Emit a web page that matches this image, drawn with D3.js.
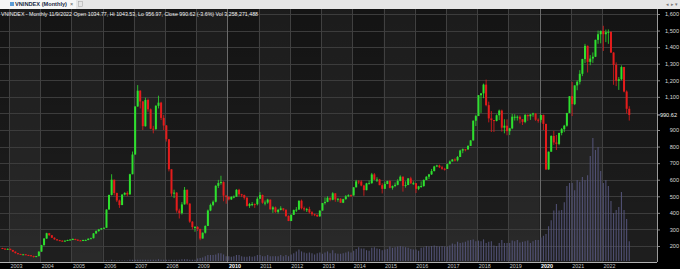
<!DOCTYPE html>
<html>
<head>
<meta charset="utf-8">
<script src="https://cdn.jsdelivr.net/npm/d3@7"></script>
<style>
  body { margin: 0; background: #000; overflow: hidden; }
  svg { display: block; font-family: "Liberation Sans", Arial, sans-serif; }
</style>
</head>
<body>
<div id="chart"></div>
<script>
// monthly VNINDEX, Oct 2002 .. Nov 2022
const firstMonth = new Date(2002, 9, 1);
const firstOpen = 188;

const closes = [
  184, 181, 183,
  176, 166, 157, 152, 150, 150, 146, 144, 140, 134, 139, 166,
  205, 245, 277, 265, 250, 240, 235, 232, 230, 232, 236, 239,
  242, 238, 234, 233, 236, 236, 244, 247, 276, 290, 300, 307,
  310, 420, 508, 600, 520, 475, 447, 510, 520, 511, 633, 752,
  1042, 1137, 1072, 923, 1081, 1025, 908, 906, 1046, 1065, 973, 927,
  844, 663, 516, 522, 414, 399, 451, 539, 456, 347, 314, 315,
  303, 245, 280, 321, 414, 448, 467, 563, 580, 586, 504, 495,
  481, 496, 498, 539, 512, 507, 491, 442, 453, 453, 452, 485,
  508, 461, 462, 480, 421, 433, 406, 418, 427, 419, 381, 351,
  388, 417, 420, 473, 428, 421, 422, 403, 392, 388, 379, 414,
  459, 466, 491, 479, 518, 481, 485, 461, 483, 500, 507, 505,
  554, 590, 589, 565, 537, 578, 579, 632, 600, 601, 567, 545,
  574, 592, 551, 562, 569, 593, 618, 563, 568, 608, 578, 579,
  545, 560, 562, 598, 618, 632, 652, 680, 686, 675, 666, 665,
  694, 710, 722, 717, 737, 776, 784, 783, 804, 837, 956, 984,
  1110, 1121, 1174, 1050, 970, 960, 955, 989, 1017, 914, 926, 893,
  910, 980, 980, 980, 965, 949, 991, 983, 994, 1000, 962, 961,
  991, 937, 662, 769, 864, 825, 816, 882, 905, 926, 1003, 1104,
  1056, 1169, 1191, 1239, 1328, 1408, 1311, 1331, 1342, 1444, 1478, 1498,
  1478, 1490, 1492, 1367, 1293, 1197, 1206, 1280, 1132, 1028, 990.62
];

const highs = [
  189, 186, 185,
  184, 177, 167, 158, 153, 152, 151, 147, 145, 141, 140, 168,
  207, 248, 280, 279, 266, 252, 242, 237, 234, 234, 238, 241,
  246, 244, 240, 236, 238, 239, 246, 250, 278, 294, 303, 309,
  312, 421, 510, 633, 600, 522, 480, 513, 525, 530, 636, 770,
  1043, 1171, 1140, 1075, 1095, 1090, 1030, 925, 1050, 1107, 1070, 990,
  930, 845, 663, 540, 525, 425, 465, 556, 541, 457, 350, 320,
  320, 304, 282, 325, 420, 456, 475, 567, 599, 624, 590, 505,
  500, 500, 505, 543, 545, 515, 510, 495, 460, 465, 457, 495,
  525, 510, 475, 485, 480, 440, 438, 424, 440, 428, 420, 385,
  390, 420, 435, 475, 480, 438, 430, 437, 410, 395, 390, 414,
  460, 493, 500, 493, 525, 518, 489, 488, 485, 507, 512, 511,
  556, 599, 597, 597, 569, 581, 595, 641, 640, 615, 605, 579,
  588, 594, 599, 565, 583, 603, 626, 620, 590, 610, 618, 590,
  580, 563, 590, 602, 621, 635, 665, 684, 690, 691, 684, 672,
  697, 716, 724, 729, 743, 781, 788, 784, 808, 840, 958, 992,
  1111, 1123, 1180, 1204, 1071, 1014, 958, 994, 1023, 1023, 965, 964,
  913, 997, 995, 988, 988, 966, 996, 994, 995, 1004, 1000, 970,
  991, 993, 937, 770, 868, 895, 870, 884, 912, 931, 1003, 1104,
  1190, 1170, 1200, 1261, 1330, 1420, 1410, 1352, 1368, 1445, 1500, 1500,
  1529, 1506, 1507, 1495, 1370, 1308, 1220, 1290, 1281, 1139, 1043.53
];

const lows = [
  182, 179, 180,
  174, 164, 155, 149, 148, 148, 145, 142, 138, 130, 133, 138,
  165, 203, 243, 262, 248, 238, 233, 230, 228, 229, 230, 234,
  236, 235, 231, 230, 231, 233, 235, 242, 246, 272, 286, 296,
  305, 310, 420, 505, 505, 465, 430, 447, 505, 500, 511, 633,
  752, 1040, 1030, 900, 920, 1010, 905, 880, 900, 1030, 960, 900,
  830, 650, 500, 489, 401, 366, 390, 450, 448, 340, 300, 286,
  290, 235, 245, 275, 321, 410, 440, 463, 550, 570, 470, 455,
  475, 478, 488, 496, 500, 495, 480, 438, 430, 440, 430, 445,
  485, 455, 445, 455, 420, 400, 400, 396, 415, 410, 375, 350,
  350, 388, 405, 418, 421, 410, 405, 396, 382, 380, 375, 376,
  413, 450, 464, 470, 476, 467, 467, 461, 459, 479, 495, 496,
  504, 554, 573, 560, 503, 536, 573, 576, 600, 586, 567, 517,
  545, 573, 548, 540, 555, 566, 591, 528, 552, 567, 575, 569,
  520, 537, 551, 557, 598, 604, 629, 650, 676, 670, 660, 655,
  665, 694, 711, 710, 710, 737, 760, 771, 780, 804, 837, 924,
  985, 1003, 1092, 1043, 946, 888, 888, 952, 960, 890, 880, 868,
  870, 905, 957, 957, 940, 930, 941, 955, 961, 980, 955, 944,
  945, 900, 659, 660, 769, 810, 779, 808, 868, 887, 920, 1003,
  984, 1050, 1140, 1175, 1225, 1304, 1247, 1291, 1305, 1340, 1420, 1423,
  1377, 1430, 1420, 1366, 1173, 1165, 1142, 1200, 1127, 1000, 956.97
];

// volume, billions of shares
const volumes = [
  0, 0, 0,
  0, 0, 0, 0, 0, 0, 0, 0, 0, 0, 0, 0,
  0, 0, 0, 0, 0, 0, 0, 0, 0, 0, 0, 0,
  0, 0, 0, 0, 0, 0, 0, 0, 0, 0, 0, 0,
  0.1, 0.1, 0.1, 0.2, 0.1, 0.1, 0.1, 0.1, 0.1, 0.1, 0.2, 0.2,
  0.2, 0.2, 0.2, 0.2, 0.2, 0.2, 0.2, 0.2, 0.2, 0.3, 0.2, 0.2,
  0.2, 0.2, 0.2, 0.2, 0.2, 0.2, 0.3, 0.3, 0.3, 0.2, 0.2, 0.2,
  0.4, 0.5, 0.6, 0.8, 1.0, 1.0, 1.0, 1.1, 1.3, 1.3, 1.1, 0.8,
  0.8, 0.7, 0.8, 1.0, 1.0, 0.8, 0.7, 0.7, 0.8, 0.7, 0.8, 1.0,
  1.0, 0.8, 0.8, 1.0, 0.8, 0.8, 0.8, 0.8, 1.0, 0.8, 1.0, 0.8,
  1.1, 1.3, 1.6, 1.9, 1.6, 1.4, 1.3, 1.4, 1.3, 1.1, 1.3, 1.4,
  1.2, 1.4, 1.6, 1.3, 1.8, 1.3, 1.2, 1.2, 1.3, 1.4, 1.6, 1.4,
  1.7, 2.0, 2.3, 2.1, 2.1, 1.8, 1.7, 2.2, 2.3, 2.1, 2.0, 1.8,
  1.9, 2.0, 2.4, 2.2, 2.3, 2.4, 2.5, 2.4, 2.3, 2.2, 2.0, 1.9,
  1.9, 1.7, 2.2, 2.3, 2.5, 2.4, 2.5, 2.6, 2.5, 2.4, 2.5, 2.4,
  2.4, 2.6, 2.9, 2.8, 3.2, 3.0, 3.1, 3.2, 3.4, 3.5, 3.6, 3.3,
  3.4, 3.3, 3.6, 3.0, 3.2, 3.3, 2.6, 2.5, 3.0, 3.5, 3.0, 3.0,
  3.0, 3.4, 3.3, 3.5, 3.1, 3.2, 3.3, 3.4, 3.0, 3.3, 3.5, 3.5,
  3.9, 4.2, 4.5, 5.8, 6.8, 8.4, 9.5, 8.4, 8.5, 9.8, 12.5, 13.0,
  13.0, 11.8, 13.5, 13.2, 14.0, 13.5, 14.3, 17.5, 20.5, 18.5, 19.0, 15.0,
  13.0, 13.5, 12.5, 10.0, 8.0, 8.5, 9.0, 11.5, 8.5, 7.0, 3.3
];

const priceTicks = [200, 300, 400, 500, 600, 700, 800, 900, 1100, 1200, 1300, 1400, 1500, 1600];
const gridTicks = [200, 300, 400, 500, 600, 700, 800, 900, 1000, 1100, 1200, 1300, 1400, 1500, 1600];
const yearTicks = d3.timeYear.range(new Date(2003, 0, 1), new Date(2023, 0, 1));
const lastPrice = 990.62;
const headerText = "VNINDEX - Monthly 11/9/2022 Open 1034.77, Hi 1043.53, Lo 956.97, Close 990.62 (-3.6%) Vol 3,258,271,488";

const W = 680, H = 269;
const plotL = 0, plotR = 657, plotT = 9, plotB = 262;

const months = d3.timeMonth.range(firstMonth, d3.timeMonth.offset(firstMonth, closes.length));
const bars = months.map((m, i) => ({
  date: m,
  open: i === 0 ? firstOpen : closes[i - 1],
  close: closes[i],
  high: highs[i],
  low: lows[i],
  vol: volumes[i]
}));

const x = d3.scaleTime()
    .domain([new Date(2003, 0, 1), new Date(2022, 0, 1)])
    .range([9, 602]);
const y = d3.scaleLinear().domain([200, 1600]).range([246, 14]);
const yVol = d3.scaleLinear().domain([0, 20.5]).range([plotB - 1, 138]);

const mid = d => (x(d.date) + x(d3.timeMonth.offset(d.date, 1))) / 2;

const svg = d3.select("#chart").append("svg")
    .attr("width", W).attr("height", H);

const defs = svg.append("defs");
const shade = defs.append("linearGradient").attr("id", "shade")
    .attr("x1", 0).attr("y1", 0).attr("x2", 0).attr("y2", 1);
shade.append("stop").attr("offset", "0%").attr("stop-color", "#000").attr("stop-opacity", 0.35);
shade.append("stop").attr("offset", "100%").attr("stop-color", "#000").attr("stop-opacity", 0);
defs.append("clipPath").attr("id", "plotclip").append("rect")
    .attr("x", plotL).attr("y", plotT).attr("width", plotR - plotL).attr("height", plotB - plotT);

// background + yearly bands
svg.append("rect").attr("x", 0).attr("y", 0).attr("width", W).attr("height", H).attr("fill", "#000");
svg.append("rect").attr("x", plotL).attr("y", plotT).attr("width", plotR - plotL).attr("height", plotB - plotT)
    .attr("fill", "#1e1e1e");

const bandYears = d3.timeYear.range(new Date(2001, 0, 1), new Date(2022, 0, 1))
    .filter(d => d.getFullYear() % 2 === 1);
svg.append("g").attr("clip-path", "url(#plotclip)")
  .selectAll("rect").data(bandYears).join("rect")
    .attr("x", d => x(d))
    .attr("y", plotT)
    .attr("width", d => x(d3.timeYear.offset(d, 1)) - x(d))
    .attr("height", plotB - plotT)
    .attr("fill", "#2a2a2a");

svg.append("rect").attr("x", plotL).attr("y", plotT).attr("width", plotR - plotL).attr("height", plotB - plotT)
    .attr("fill", "url(#shade)");

// grid
svg.append("g").selectAll("line").data(gridTicks).join("line")
    .attr("x1", plotL).attr("x2", plotR)
    .attr("y1", d => Math.round(y(d)) + 0.5).attr("y2", d => Math.round(y(d)) + 0.5)
    .attr("stroke", "#3c3c3c").attr("stroke-width", 1);

svg.append("g").selectAll("line").data(yearTicks).join("line")
    .attr("x1", d => Math.round(x(d)) + 0.5).attr("x2", d => Math.round(x(d)) + 0.5)
    .attr("y1", plotT).attr("y2", plotB)
    .attr("stroke", d => d.getFullYear() % 10 === 0 ? "#6a6a6a" : "#404040")
    .attr("stroke-width", 1);

// volume
svg.append("g").attr("clip-path", "url(#plotclip)")
  .selectAll("line").data(bars.filter(d => d.vol > 0)).join("line")
    .attr("x1", mid).attr("x2", mid)
    .attr("y1", yVol(0)).attr("y2", d => yVol(d.vol))
    .attr("stroke", "#55557c").attr("stroke-width", 1.1).attr("stroke-opacity", 0.9);

// candles
const up = "#2ee02e", down = "#e41c1c";
const candle = svg.append("g").attr("clip-path", "url(#plotclip)")
  .selectAll("g").data(bars).join("g");
candle.append("line")
    .attr("x1", mid).attr("x2", mid)
    .attr("y1", d => y(d.high)).attr("y2", d => y(d.low))
    .attr("stroke", d => d.close >= d.open ? up : down)
    .attr("stroke-width", 0.8);
candle.append("rect")
    .attr("x", d => mid(d) - 1)
    .attr("width", 2)
    .attr("y", d => y(Math.max(d.open, d.close)))
    .attr("height", d => Math.max(1, Math.abs(y(d.open) - y(d.close))))
    .attr("fill", d => d.close >= d.open ? up : down);

// right axis
svg.append("rect").attr("x", plotR).attr("y", plotT).attr("width", W - plotR).attr("height", H - plotT).attr("fill", "#000");
const yAxis = svg.append("g")
    .attr("transform", `translate(${plotR},0)`)
    .call(d3.axisRight(y).tickValues(priceTicks).tickSize(3).tickFormat(d3.format(",")));
yAxis.select(".domain").remove();
yAxis.selectAll("line").attr("stroke", "#888");
yAxis.selectAll("text")
    .attr("x", 22).attr("text-anchor", "end")
    .attr("fill", "#d8d8d8").attr("font-size", 5.6)
    .attr("font-family", "'Liberation Sans', Arial, sans-serif");
svg.append("line").attr("x1", plotR + 0.5).attr("x2", plotR + 0.5).attr("y1", plotT).attr("y2", plotB)
    .attr("stroke", "#9a9a9a");

const last = svg.append("g").attr("transform", `translate(${plotR},${y(lastPrice)})`);
last.append("line").attr("x1", 0).attr("x2", 3).attr("stroke", "#bbb");
last.append("text").attr("x", 20).attr("dy", "0.35em").attr("text-anchor", "end")
    .attr("fill", "#f0f0f0").attr("font-size", 5.6).text(lastPrice.toFixed(2));

// bottom axis
svg.append("line").attr("x1", plotL).attr("x2", plotR).attr("y1", plotB + 0.5).attr("y2", plotB + 0.5)
    .attr("stroke", "#b0b0b0");
const xAxis = svg.append("g")
    .attr("transform", `translate(0,${plotB})`)
    .call(d3.axisBottom(x).tickValues(yearTicks).tickSize(0).tickPadding(0).tickFormat(d3.timeFormat("%Y")));
xAxis.select(".domain").remove();
xAxis.selectAll("text")
    .attr("text-anchor", "start").attr("dx", 1).attr("y", 6).attr("dy", 0)
    .attr("fill", d => d.getFullYear() % 10 === 0 ? "#fff" : "#c8c8c8")
    .attr("font-weight", d => d.getFullYear() % 10 === 0 ? "bold" : "normal")
    .attr("font-size", 5.4)
    .attr("font-family", "'Liberation Sans', Arial, sans-serif");

// header line
svg.append("text").attr("x", 1).attr("y", 15.5)
    .attr("fill", "#f2f2f2").attr("font-size", 6)
    .attr("textLength", 257).attr("lengthAdjust", "spacingAndGlyphs")
    .text(headerText);

// tab strip
svg.append("rect").attr("x", 0).attr("y", 0).attr("width", W).attr("height", plotT).attr("fill", "#e6e6e6");
svg.append("rect").attr("x", 0).attr("y", 0).attr("width", 76).attr("height", plotT).attr("fill", "#f6f6f6");
svg.append("rect").attr("x", 10).attr("y", 2).attr("width", 4).attr("height", 4).attr("fill", "#5b9bd5");
svg.append("text").attr("x", 15).attr("y", 6.3).attr("fill", "#1a2a44")
    .attr("font-size", 5.6).attr("font-weight", "bold")
    .attr("textLength", 52).attr("lengthAdjust", "spacingAndGlyphs")
    .text("VNINDEX (Monthly)");
svg.append("text").attr("x", 70).attr("y", 6.3).attr("fill", "#555").attr("font-size", 5.6).text("×");
svg.append("rect").attr("x", 78.5).attr("y", 1.5).attr("width", 4).attr("height", 5).attr("fill", "none")
    .attr("stroke", "#aaa").attr("stroke-width", 0.6);
svg.append("text").attr("x", 678).attr("y", 6).attr("text-anchor", "end").attr("fill", "#777")
    .attr("font-size", 5).text("◂ ▸ ▾");
</script>
</body>
</html>
